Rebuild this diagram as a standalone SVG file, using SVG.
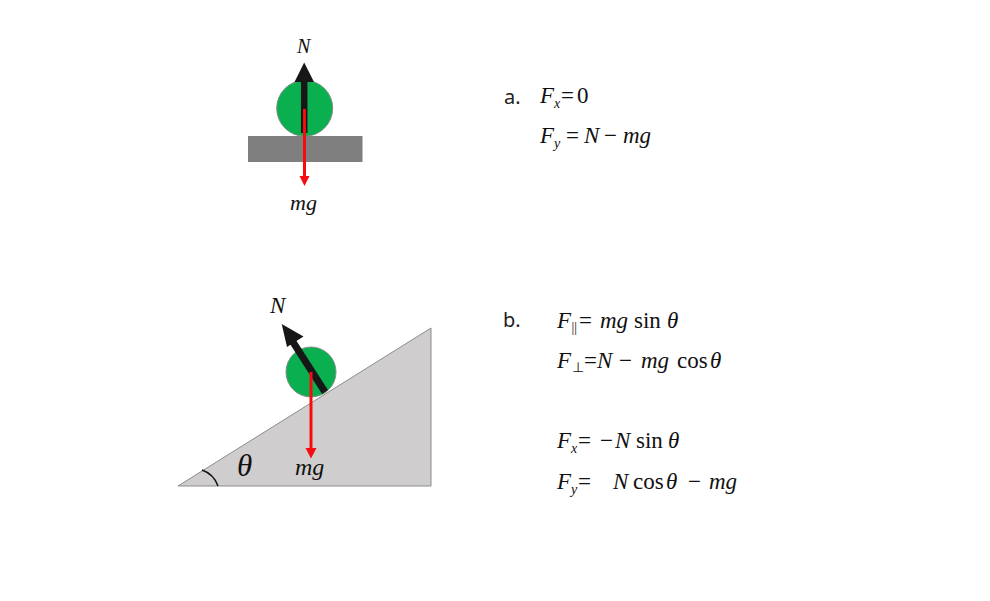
<svg xmlns="http://www.w3.org/2000/svg" width="990" height="601" viewBox="0 0 990 601">
<style>
.m{font-family:"Liberation Serif",serif;font-size:23px;fill:#111}
.i{font-style:italic}
.s{font-size:14px}
.l{font-family:"Noto Sans",sans-serif;font-size:20px;fill:#222}
.ball{fill:#0ab04f;stroke:#7f8f85;stroke-width:1}
.black{stroke:#171717;fill:none}
.red{stroke:#f60c10;stroke-width:3;fill:none}
</style>
<rect width="990" height="601" fill="#fff"/>
<g id="surface-a"><rect x="248" y="136" width="114.500" height="26" fill="#7f7f7f"/></g>
<g id="ball-a"><circle class="ball" cx="304.700" cy="108.300" r="28"/></g>
<g id="incline"><path d="M178 486L431 328V486Z" fill="#cfcdce" stroke="#8c8c8c" stroke-width="1"/></g>
<g id="angle"><path d="M202 470A26 26 0 0 1 218 486" fill="none" stroke="#111" stroke-width="1.500"/></g>
<g id="ball-b"><circle class="ball" cx="311" cy="372" r="25"/></g>
<g id="connectors">
<path class="black" stroke-width="6.500" d="M304.200 133V80"/>
<path d="M304.200 62.500L314 82H294.500Z" fill="#171717"/>
<path class="red" d="M304.500 109V177"/>
<path d="M304.500 186L299.500 176H309.500Z" fill="#f60c10"/>
<path class="black" stroke-width="7" d="M325 392L292 340.500"/>
<path d="M281.700 324L303.500 336.500L287 347Z" fill="#171717"/>
<path class="red" d="M311 372V449"/>
<path d="M311 458.500L305.500 448H316.500Z" fill="#f60c10"/>
</g>
<g id="labels">
<text class="m i" x="297" y="53" style="font-size:20px">N</text>
<text class="m i" x="290" y="210" style="font-size:22px">mg</text>
<text class="m i" x="270" y="313">N</text>
<text class="m i" x="295" y="475" style="font-size:24px">mg</text>
<text class="m i" x="237" y="476" style="font-size:31px">θ</text>
</g>
<g id="equations">
<text class="l" x="504" y="104">a.</text>
<text class="m i" x="540" y="103">F<tspan class="s" dy="5" x="554">x</tspan></text>
<text class="m" y="103"><tspan x="561">=</tspan><tspan x="577">0</tspan></text>
<text class="m i" x="540" y="143">F<tspan class="s" dy="5" x="554">y</tspan></text>
<text class="m" y="143"><tspan x="566">=</tspan><tspan class="i" x="584">N</tspan><tspan x="604">−</tspan><tspan class="i" x="623">mg</tspan></text>
<text class="l" x="503" y="327">b.</text>
<text class="m i" x="557" y="328">F<tspan class="s" dy="4" x="571.500" font-style="normal">||</tspan></text>
<text class="m" y="328"><tspan x="579">=</tspan><tspan class="i" x="600">mg</tspan><tspan x="634">sin</tspan><tspan class="i" x="667">θ</tspan></text>
<text class="m i" x="557" y="368">F<tspan class="s" dy="4" x="571.500" font-style="normal">⊥</tspan></text>
<text class="m" y="368"><tspan x="584">=</tspan><tspan class="i" x="597">N</tspan><tspan x="619">−</tspan><tspan class="i" x="641">mg</tspan><tspan x="677">cos</tspan><tspan class="i" x="710">θ</tspan></text>
<text class="m i" x="557" y="448">F<tspan class="s" dy="5" x="571">x</tspan></text>
<text class="m" y="448"><tspan x="578">=</tspan><tspan x="600">−</tspan><tspan class="i" x="615">N</tspan><tspan x="636">sin</tspan><tspan class="i" x="668">θ</tspan></text>
<text class="m i" x="557" y="489">F<tspan class="s" dy="5" x="571">y</tspan></text>
<text class="m" y="489"><tspan x="578">=</tspan><tspan class="i" x="613">N</tspan><tspan x="633">cos</tspan><tspan class="i" x="666">θ</tspan><tspan x="688">−</tspan><tspan class="i" x="709">mg</tspan></text>
</g>
</svg>
